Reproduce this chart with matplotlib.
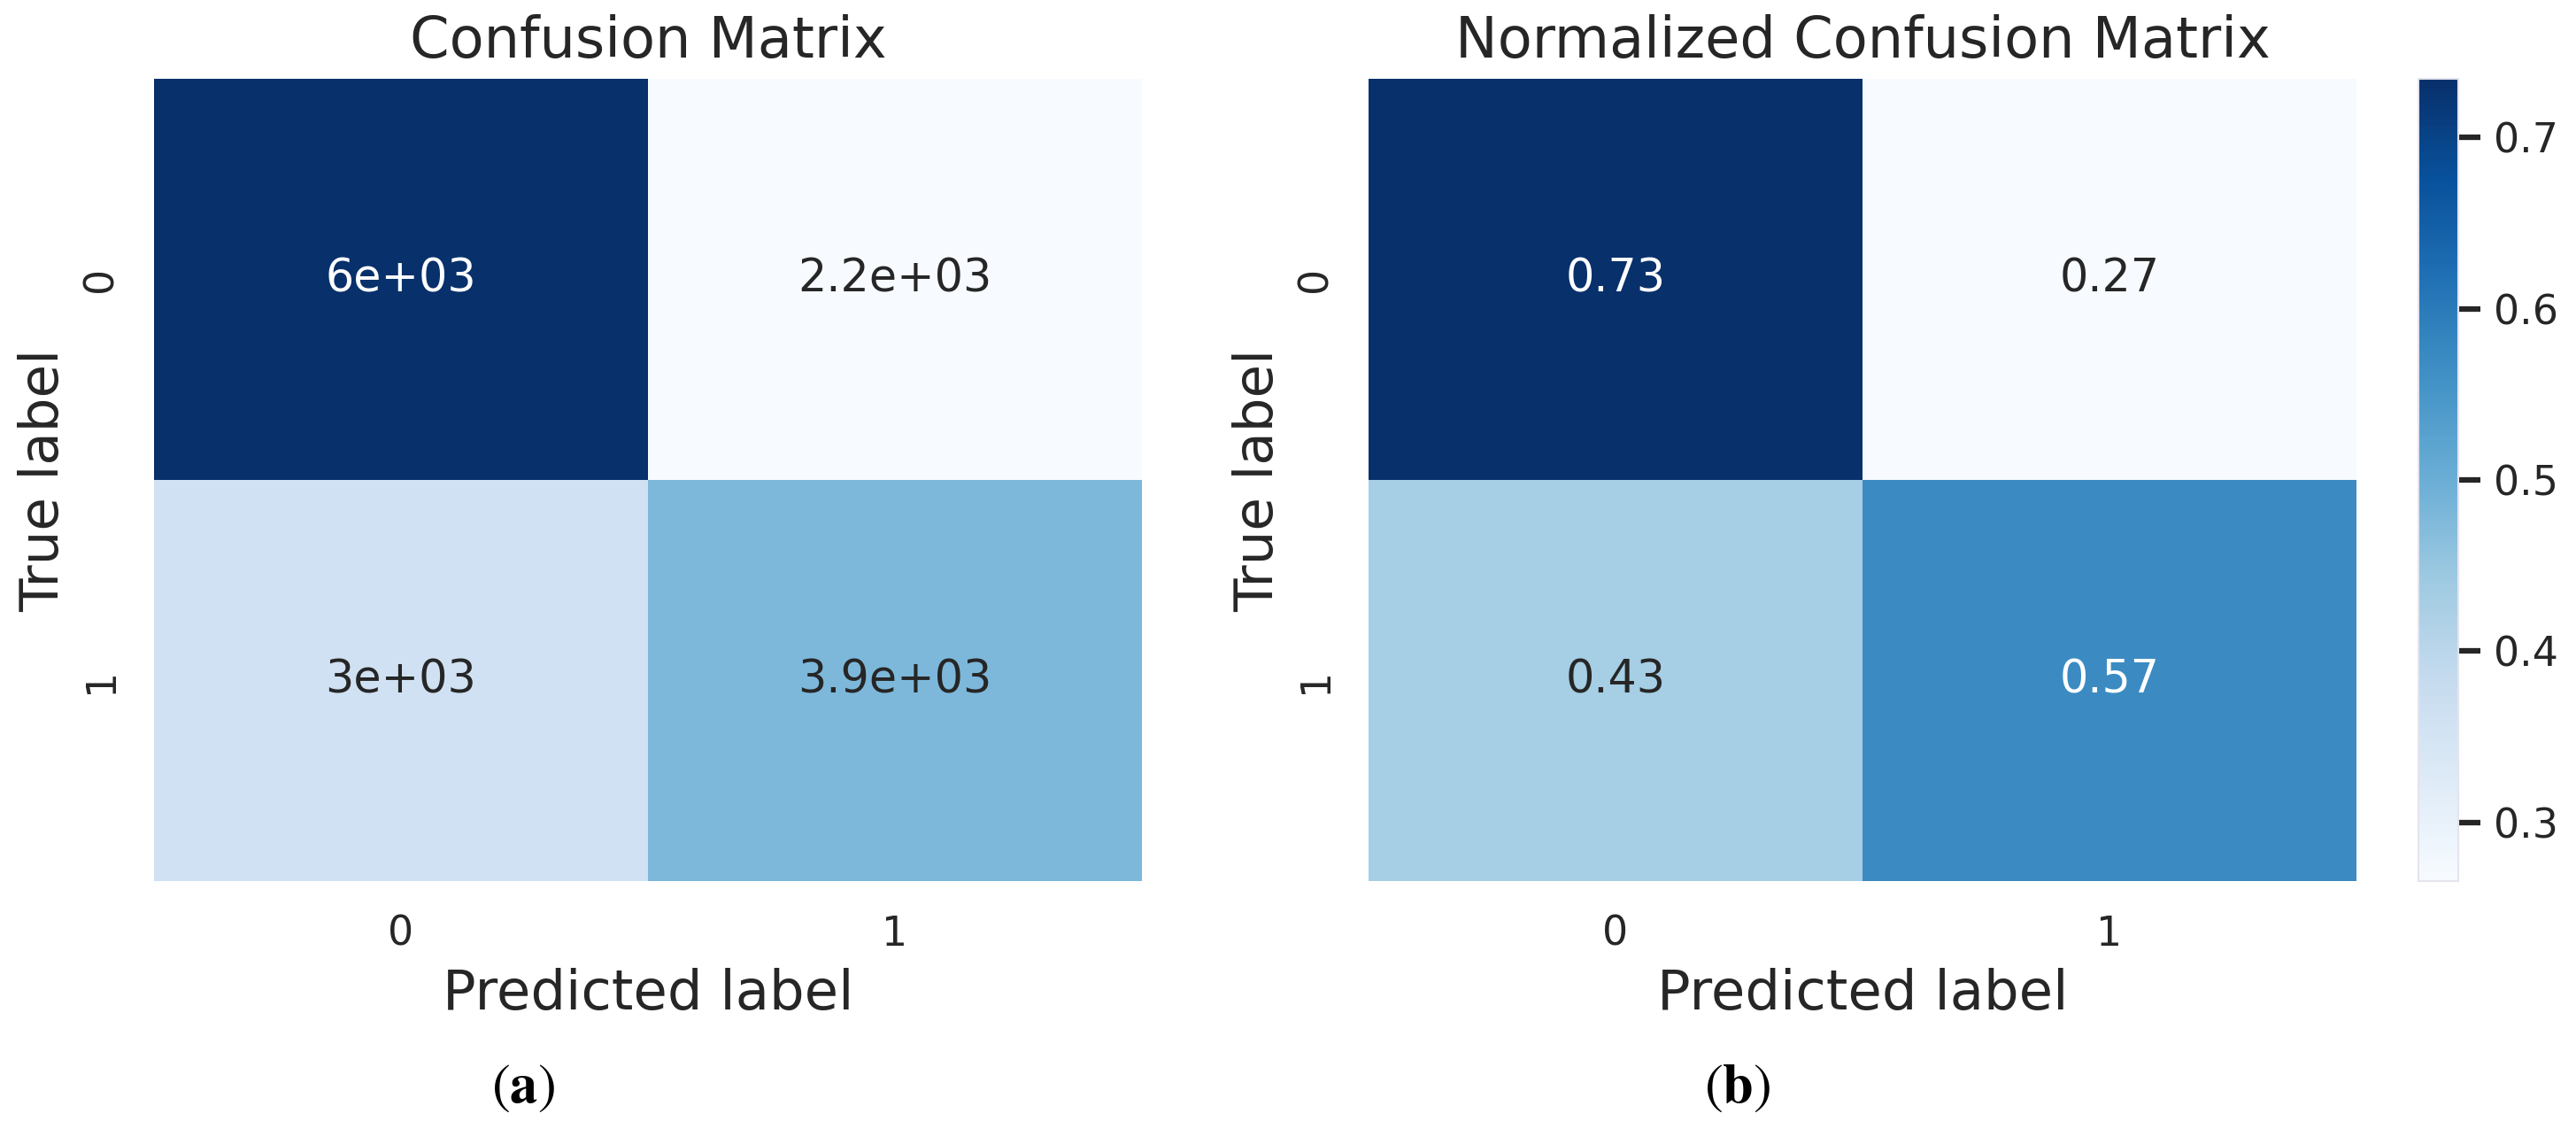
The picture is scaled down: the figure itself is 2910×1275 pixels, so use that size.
import numpy as np
import matplotlib
matplotlib.use("Agg")
import matplotlib.pyplot as plt
import seaborn as sns

# ---- data ----
class_labels = ["0", "1"]
counts_row0 = [6000, 2170]
counts_row1 = [2960, 3920]
cbar_ticks = [0.3, 0.4, 0.5, 0.6, 0.7]
titles = ["Confusion Matrix", "Normalized Confusion Matrix"]
panel_tags = [r"$(\mathbf{a})$", r"$(\mathbf{b})$"]

counts = np.array([counts_row0, counts_row1], dtype=float)
normalized = counts / counts.sum(axis=1, keepdims=True)

sns.set_theme(style="white")
plt.rcParams["font.family"] = ["DejaVu Sans"]
plt.rcParams["mathtext.fontset"] = "stix"
TXT = "#262626"

W, H = 2910, 1275
fig = plt.figure(figsize=(W / 100, H / 100), dpi=100)

def box(x0, y0, x1, y1):
    return [x0 / W, 1 - y1 / H, (x1 - x0) / W, (y1 - y0) / H]

ax1 = fig.add_axes(box(174, 89, 1290, 995))
ax2 = fig.add_axes(box(1546, 89, 2662, 995))
cax = fig.add_axes(box(2732, 89, 2777, 995))

sns.heatmap(counts, annot=True, fmt=".2g", cmap="Blues", cbar=False, ax=ax1,
            xticklabels=class_labels, yticklabels=class_labels,
            annot_kws={"size": 36.5})
sns.heatmap(normalized, annot=True, fmt=".2g", cmap="Blues", cbar=True,
            cbar_ax=cax, ax=ax2,
            xticklabels=class_labels, yticklabels=class_labels,
            annot_kws={"size": 36.5})

for ax, title, tag_x, tag in zip([ax1, ax2], titles, [591, 1963], panel_tags):
    ax.set_title(title, fontsize=46, color=TXT, pad=17)
    ax.set_xlabel("Predicted label", fontsize=45, color=TXT, labelpad=11)
    ax.set_ylabel("True label", fontsize=44, color=TXT, labelpad=9)
    ax.tick_params(axis="both", length=0, pad=27, labelsize=33, labelcolor=TXT)
    for lab in ax.get_yticklabels():
        lab.set_rotation(90)
        lab.set_va("center")
    for lab in ax.get_xticklabels():
        lab.set_rotation(0)
    fig.text(tag_x / W, 1 - 1228 / H, tag, fontsize=45, color="black",
             ha="center", va="center")

cbar = ax2.collections[0].colorbar
cbar.set_ticks(cbar_ticks)
cbar.ax.tick_params(length=18, width=4.5, color=TXT, pad=11,
                    labelsize=33, labelcolor=TXT)
cbar.outline.set_visible(True)
cbar.outline.set_edgecolor("#e4e4ee")
cbar.outline.set_linewidth(1.5)

fig.savefig("out.png", dpi=100, facecolor="white")
